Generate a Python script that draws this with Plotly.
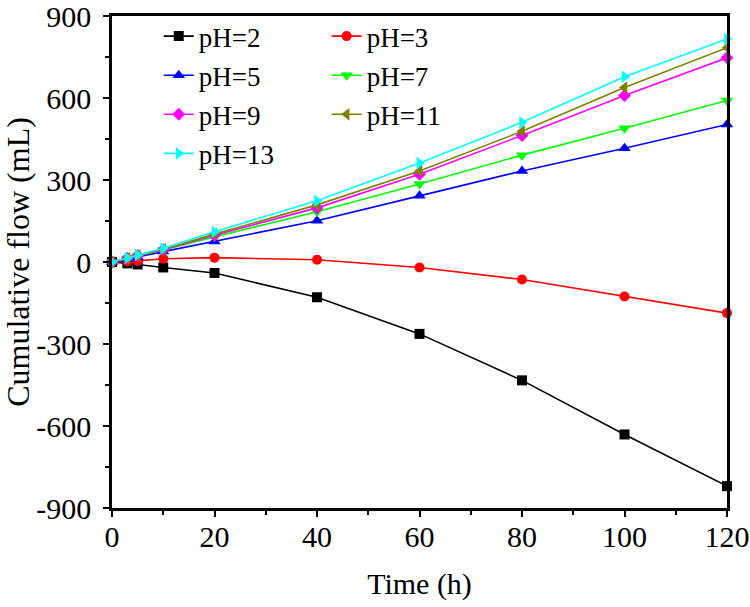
import plotly.graph_objects as go

time_h = [0, 3, 5, 10, 20, 40, 60, 80, 100, 120]

ph2 = [0, -5, -9, -20, -40, -129, -263, -433, -631, -820]
ph3 = [0, 2, 4, 12, 16, 8, -20, -64, -126, -187]
ph5 = [0, 10, 18, 38, 75, 151, 242, 333, 416, 503]
ph7 = [0, 13, 22, 44, 92, 184, 285, 391, 489, 591]
ph9 = [0, 14, 24, 45, 98, 198, 321, 463, 609, 747]
ph11 = [0, 14, 24, 46, 102, 209, 333, 478, 638, 784]
ph13 = [0, 15, 26, 50, 111, 224, 362, 511, 678, 816]

x_ticks = [0, 20, 40, 60, 80, 100, 120]
y_ticks = [-900, -600, -300, 0, 300, 600, 900]
y_tick_labels = ['-900', '-600', '-300', '0', '300', '600', '900']

series = [
    ('pH=2', ph2, 'black', 'square', 'legend'),
    ('pH=3', ph3, '#FF0000', 'circle', 'legend2'),
    ('pH=5', ph5, '#0000FF', 'triangle-up', 'legend'),
    ('pH=7', ph7, '#00FF00', 'triangle-down', 'legend2'),
    ('pH=9', ph9, '#FF00FF', 'diamond', 'legend'),
    ('pH=11', ph11, '#808000', 'triangle-left', 'legend2'),
    ('pH=13', ph13, '#00FFFF', 'triangle-right', 'legend'),
]

font = 'Liberation Serif, Times New Roman, serif'

fig = go.Figure()
for name, vals, color, symbol, leg in series:
    fig.add_trace(go.Scatter(
        x=time_h, y=vals, name=name, mode='lines+markers',
        line=dict(color=color, width=1.6),
        marker=dict(symbol=symbol, size=11 if 'triangle' in symbol else 10, color=color),
        legend=leg, legendgroup=name, cliponaxis=False,
    ))

axis_common = dict(
    showline=True, linecolor='black', linewidth=2.5, mirror=True,
    ticks='outside', ticklen=6, tickwidth=1.5, tickcolor='black',
    showgrid=False, zeroline=False, automargin=False,
    ticklabeloverflow='allow',
    tickfont=dict(family=font, size=30, color='black'),
)

fig.update_xaxes(
    range=[0, 120], tickvals=x_ticks, ticklabelstandoff=-6,
    minor=dict(ticks='outside', dtick=10, ticklen=4, tickwidth=1.5, tickcolor='black'),
    title=dict(text='Time (h)', font=dict(family=font, size=30, color='black'), standoff=22),
    **axis_common,
)
fig.update_yaxes(
    range=[-900, 900], tickvals=y_ticks, ticktext=y_tick_labels, ticklabelstandoff=6,
    minor=dict(ticks='outside', dtick=150, ticklen=4, tickwidth=1.5, tickcolor='black'),
    title=dict(text='Cumulative flow (mL)', font=dict(family=font, size=32, color='black'), standoff=14),
    **axis_common,
)

legend_style = dict(
    font=dict(family=font, size=27, color='black'),
    bgcolor='rgba(0,0,0,0)', borderwidth=0,
    yanchor='top', y=1.008, xanchor='left',
    tracegroupgap=1, itemwidth=30,
)

fig.update_layout(
    width=750, height=607,
    margin=dict(l=112, r=23, t=16, b=99, autoexpand=False),
    plot_bgcolor='white', paper_bgcolor='white',
    legend=dict(x=0.076, **legend_style),
    legend2=dict(x=0.349, **legend_style),
    showlegend=True,
)

# drop the default 8px page margin so the figure sits at the window corner
fig.write_html('out.html', config={'displayModeBar': False},
               post_script="document.body.style.margin='0';")
